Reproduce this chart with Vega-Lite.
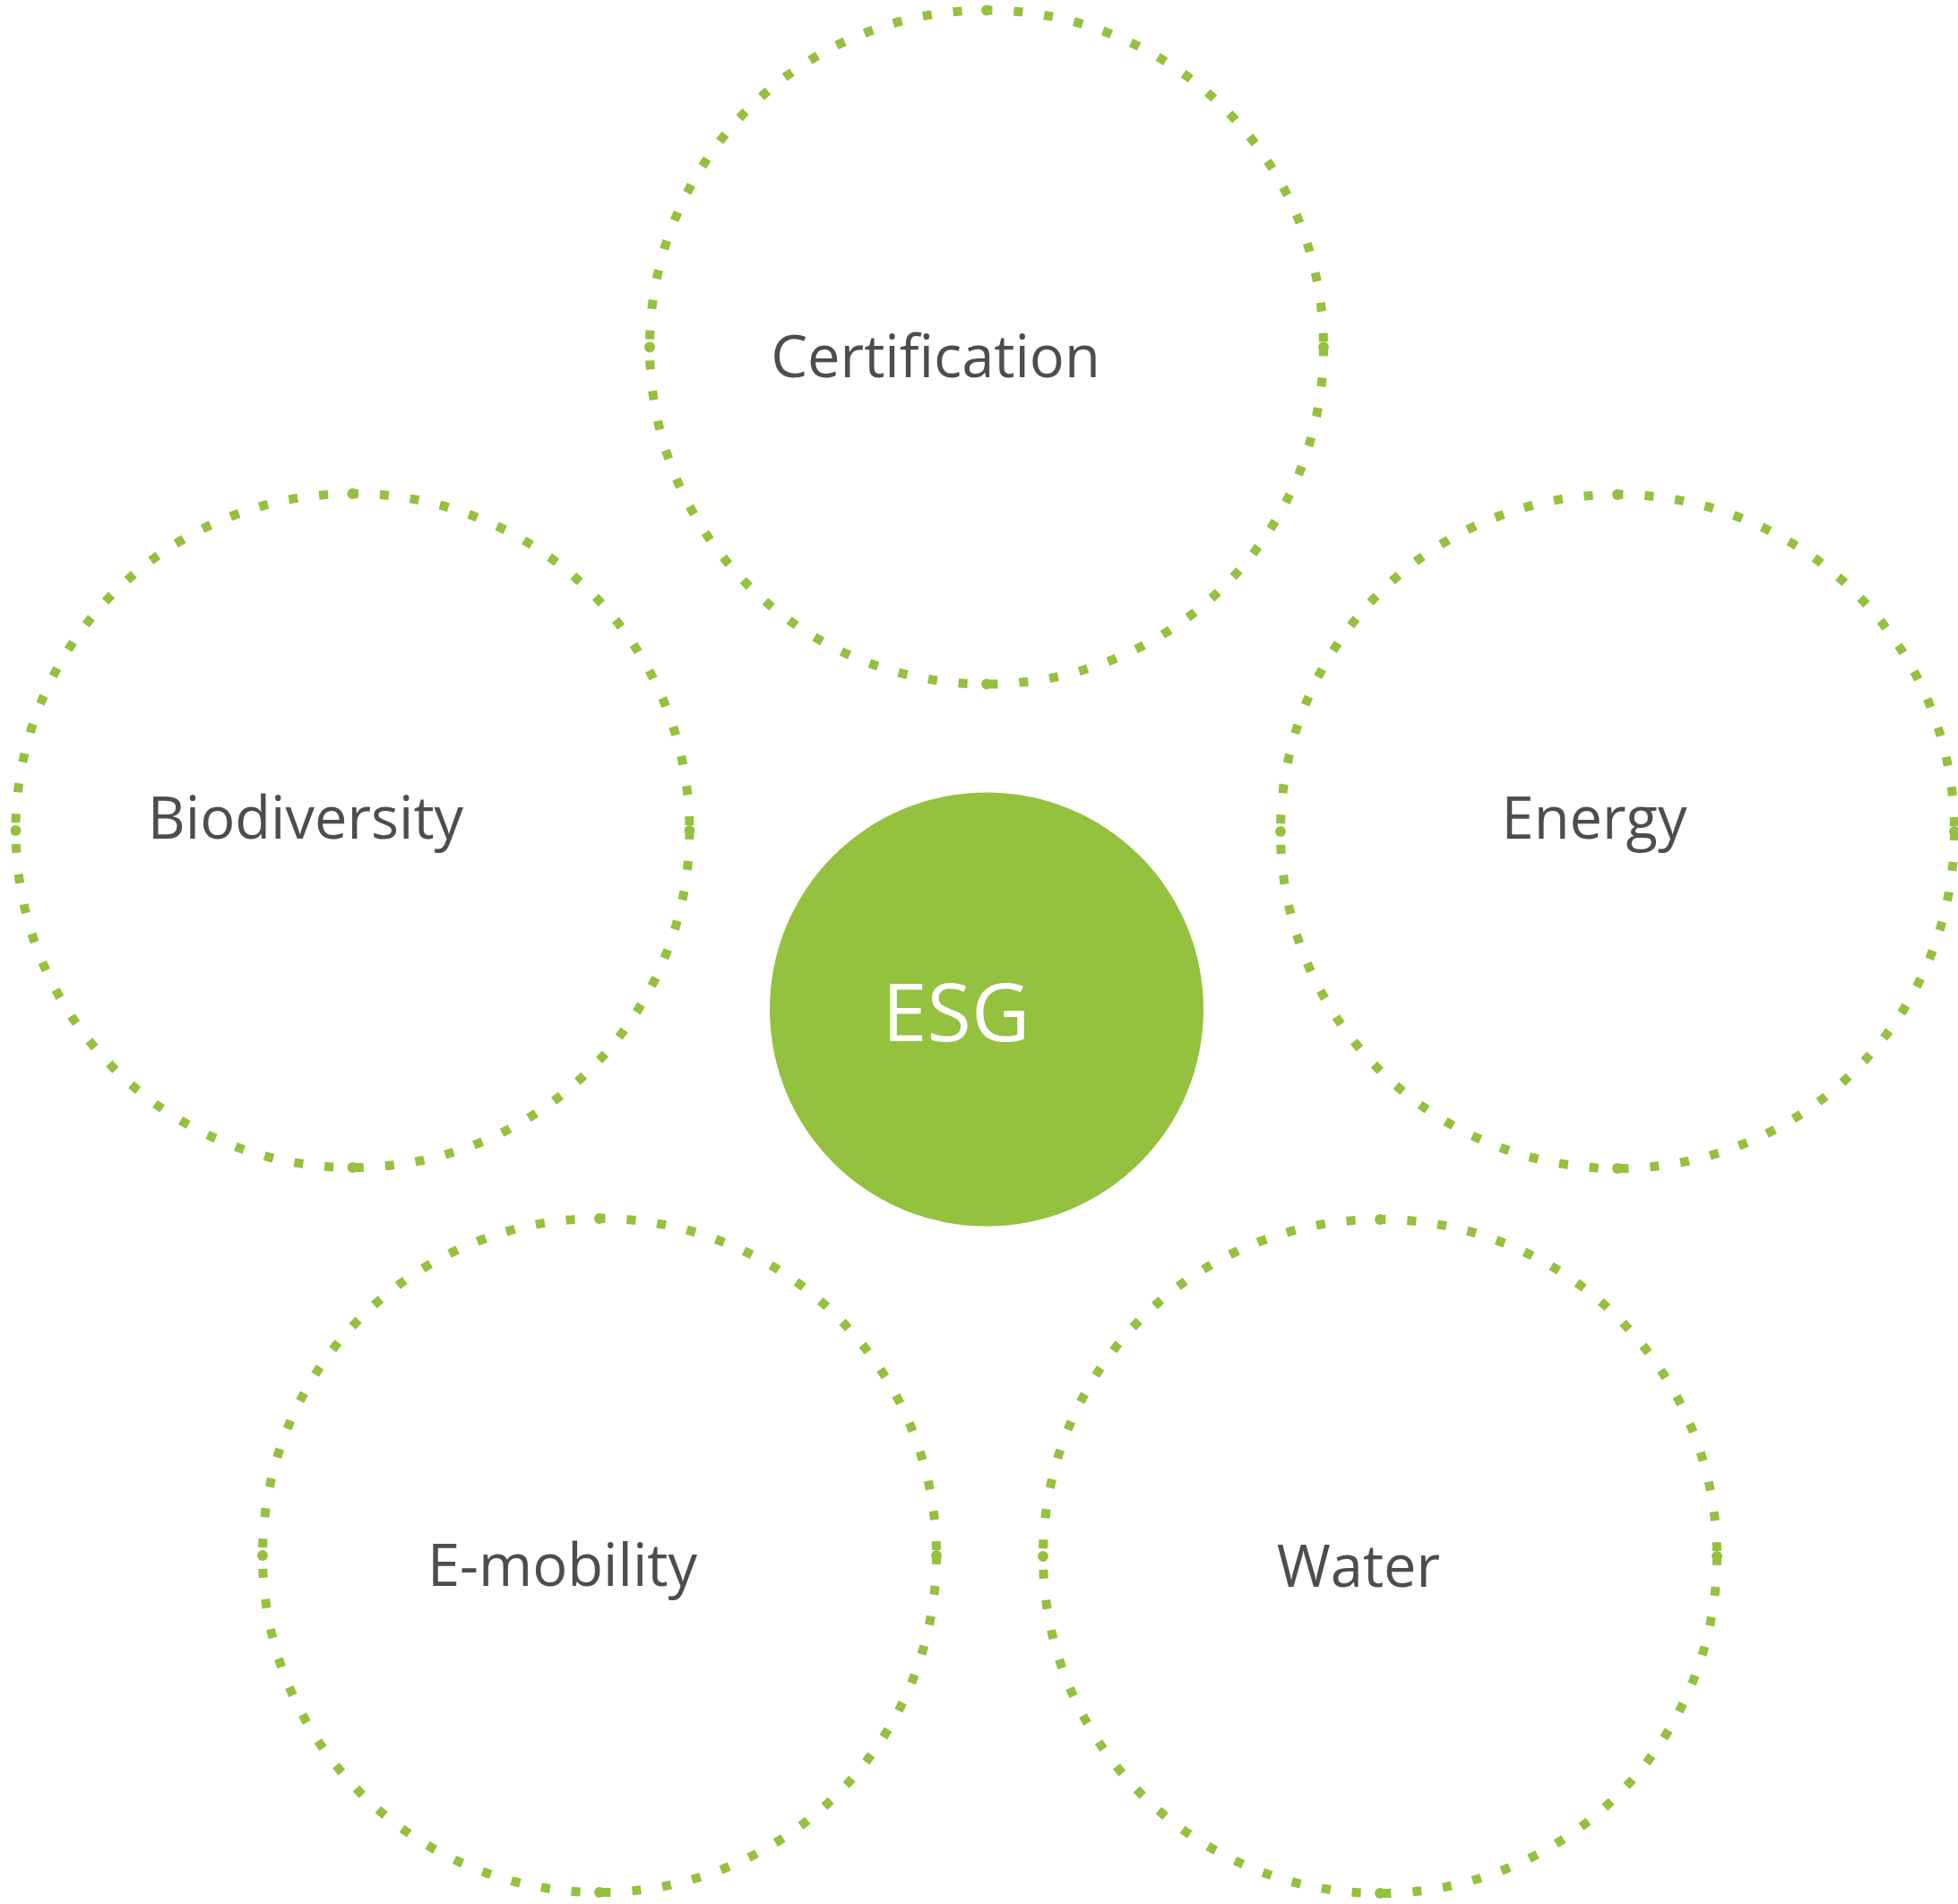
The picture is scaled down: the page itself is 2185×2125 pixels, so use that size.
{
  "$schema": "https://vega.github.io/schema/vega-lite/v6.json",
  "autosize": {"type": "none"},
  "width": 2185,
  "height": 2125,
  "padding": 0,
  "background": "white",
  "config": {"view": {"stroke": null}},
  "datasets": {
    "rings": [
      {"name": "Certification", "cx": 1101, "cy": 387.5},
      {"name": "Biodiversity", "cx": 393.5, "cy": 927},
      {"name": "Energy", "cx": 1805, "cy": 928},
      {"name": "E-mobility", "cx": 669, "cy": 1736},
      {"name": "Water", "cx": 1540, "cy": 1737}
    ],
    "nodes": [
      {"name": "Certification", "lx": 1044, "ly": 421},
      {"name": "Biodiversity", "lx": 341, "ly": 936},
      {"name": "Energy", "lx": 1779, "ly": 936},
      {"name": "E-mobility", "lx": 627.5, "ly": 1770},
      {"name": "Water", "lx": 1516, "ly": 1771}
    ],
    "hub": [{"name": "ESG", "cx": 1101, "cy": 1126.5, "lx": 1067, "ly": 1162}],
    "ticks": [
      {"tx": 1101, "ty": 11.5}, {"tx": 1101, "ty": 763.5}, {"tx": 725, "ty": 387.5}, {"tx": 1477, "ty": 387.5},
      {"tx": 393.5, "ty": 551}, {"tx": 393.5, "ty": 1303}, {"tx": 17.5, "ty": 927}, {"tx": 769.5, "ty": 927},
      {"tx": 1805, "ty": 552}, {"tx": 1805, "ty": 1304}, {"tx": 1429, "ty": 928}, {"tx": 2181, "ty": 928},
      {"tx": 669, "ty": 1360}, {"tx": 669, "ty": 2112}, {"tx": 293, "ty": 1736}, {"tx": 1045, "ty": 1736},
      {"tx": 1540, "ty": 1361}, {"tx": 1540, "ty": 2113}, {"tx": 1164, "ty": 1737}, {"tx": 1916, "ty": 1737}
    ]
  },
  "layer": [
    {
      "data": {"name": "rings"},
      "mark": {"type": "point", "shape": "circle", "filled": false, "size": 565504, "stroke": "#94c13e", "strokeWidth": 10, "strokeDash": [10, 24], "strokeCap": "butt", "opacity": 1},
      "encoding": {
        "x": {"field": "cx", "type": "quantitative", "scale": {"domain": [0, 2185], "nice": false, "zero": false}, "axis": null},
        "y": {"field": "cy", "type": "quantitative", "scale": {"domain": [0, 2125], "nice": false, "zero": false, "reverse": true}, "axis": null}
      }
    },
    {
      "data": {"name": "ticks"},
      "mark": {"type": "point", "shape": "circle", "filled": true, "size": 140, "color": "#94c13e", "opacity": 1},
      "encoding": {
        "x": {"field": "tx", "type": "quantitative", "scale": {"domain": [0, 2185], "nice": false, "zero": false}, "axis": null},
        "y": {"field": "ty", "type": "quantitative", "scale": {"domain": [0, 2125], "nice": false, "zero": false, "reverse": true}, "axis": null}
      }
    },
    {
      "data": {"name": "hub"},
      "mark": {"type": "point", "shape": "circle", "filled": true, "size": 234256, "color": "#94c13e", "opacity": 1, "strokeWidth": 0},
      "encoding": {
        "x": {"field": "cx", "type": "quantitative", "scale": {"domain": [0, 2185], "nice": false, "zero": false}, "axis": null},
        "y": {"field": "cy", "type": "quantitative", "scale": {"domain": [0, 2125], "nice": false, "zero": false, "reverse": true}, "axis": null}
      }
    },
    {
      "data": {"name": "hub"},
      "mark": {"type": "text", "font": "Open Sans", "fontSize": 90, "color": "white", "align": "center", "baseline": "alphabetic"},
      "encoding": {
        "x": {"field": "lx", "type": "quantitative", "scale": {"domain": [0, 2185], "nice": false, "zero": false}, "axis": null},
        "y": {"field": "ly", "type": "quantitative", "scale": {"domain": [0, 2125], "nice": false, "zero": false, "reverse": true}, "axis": null},
        "text": {"field": "name"}
      }
    },
    {
      "data": {"name": "nodes"},
      "mark": {"type": "text", "font": "Open Sans", "fontSize": 65, "color": "#4d4d4f", "align": "center", "baseline": "alphabetic"},
      "encoding": {
        "x": {"field": "lx", "type": "quantitative", "scale": {"domain": [0, 2185], "nice": false, "zero": false}, "axis": null},
        "y": {"field": "ly", "type": "quantitative", "scale": {"domain": [0, 2125], "nice": false, "zero": false, "reverse": true}, "axis": null},
        "text": {"field": "name"}
      }
    }
  ]
}
